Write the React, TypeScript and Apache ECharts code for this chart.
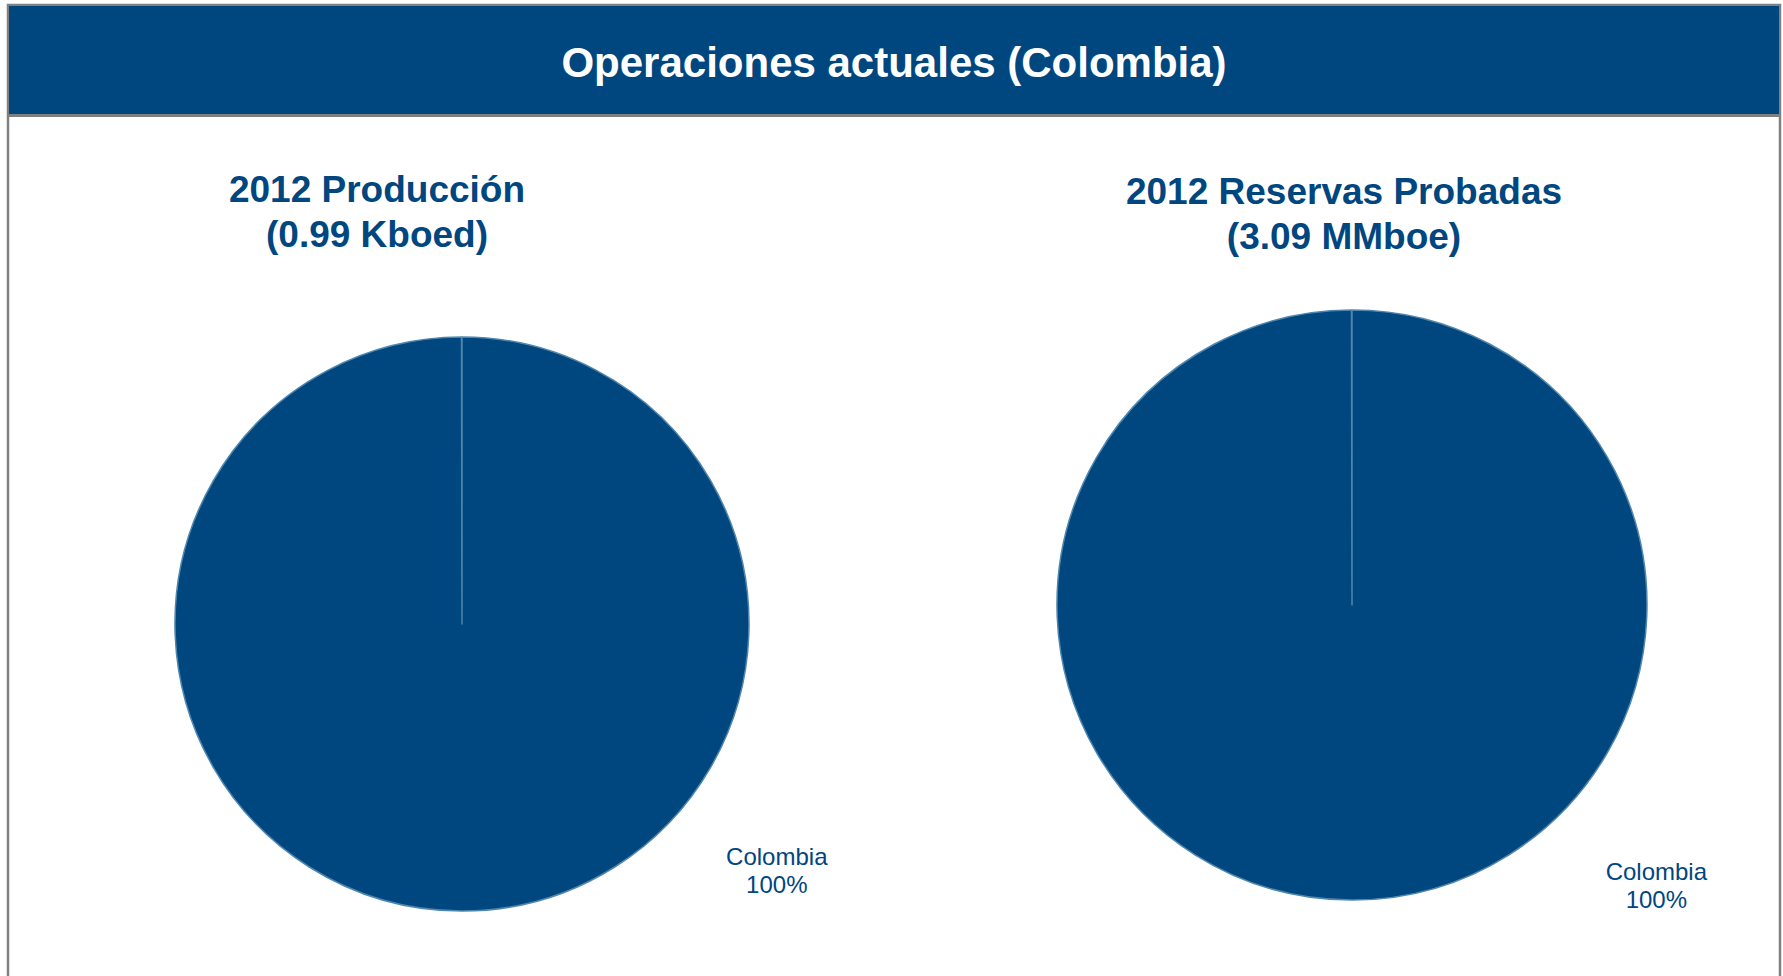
import React, { useEffect, useRef } from "react";
import * as echarts from "echarts";

const mainTitle = "Operaciones actuales (Colombia)";
const pieTitles = ["2012 Producción\n(0.99 Kboed)", "2012 Reservas Probadas\n(3.09 MMboe)"];
const categories = ["Colombia"];
const productionValues = [100];
const reservesValues = [100];

const BLUE = "#00467f";
const FONT = "'Liberation Sans', Arial, sans-serif";

function labelAt(fx: number, fy: number) {
  return (params: any) => {
    const r = params.rect;
    const R = r.width / 2;
    return {
      x: r.x + r.width / 2 + fx * R,
      y: r.y + r.height / 2 + fy * R,
      align: "center",
      verticalAlign: "middle",
    };
  };
}

function pieSeries(values: number[], center: number[], radius: number, lf: number[]) {
  return {
    type: "pie",
    silent: true,
    center,
    radius,
    startAngle: 90,
    endAngle: -269.9,
    clockwise: true,
    data: categories.map((c, i) => ({ name: c, value: values[i] })),
    itemStyle: { color: BLUE, borderColor: "#4f86ad", borderWidth: 1.5 },
    label: {
      show: true,
      position: "outside",
      formatter: "{b}\n{d}%",
      fontSize: 24,
      lineHeight: 28,
      color: BLUE,
      fontFamily: FONT,
    },
    labelLine: { show: false },
    labelLayout: labelAt(lf[0], lf[1]),
  };
}

export default function App() {
  const ref = useRef<HTMLDivElement>(null);
  useEffect(() => {
    if (!ref.current) return;
    const chart = echarts.init(ref.current, undefined, { renderer: "svg" });
    chart.setOption({
      animation: false,
      backgroundColor: "#ffffff",
      graphic: [
        {
          type: "rect",
          shape: { x: 8, y: 5, width: 1772, height: 1000 },
          style: { fill: "#ffffff", stroke: "#808080", lineWidth: 2.5 },
        },
        {
          type: "rect",
          shape: { x: 9, y: 6, width: 1770, height: 108 },
          style: { fill: BLUE },
        },
        {
          type: "line",
          shape: { x1: 8, y1: 115.5, x2: 1780, y2: 115.5 },
          style: { stroke: "#808080", lineWidth: 3 },
        },
      ],
      title: [
        {
          text: mainTitle,
          left: 894,
          top: 37,
          padding: 0,
          textAlign: "center",
          textStyle: { color: "#ffffff", fontSize: 42, fontWeight: "bold", lineHeight: 50, fontFamily: FONT },
        },
        {
          text: pieTitles[0],
          left: 377,
          top: 167,
          padding: 0,
          textAlign: "center",
          textStyle: { color: BLUE, fontSize: 37, fontWeight: "bold", lineHeight: 45, fontFamily: FONT },
        },
        {
          text: pieTitles[1],
          left: 1344,
          top: 169,
          padding: 0,
          textAlign: "center",
          textStyle: { color: BLUE, fontSize: 37, fontWeight: "bold", lineHeight: 45, fontFamily: FONT },
        },
      ],
      series: [
        pieSeries(productionValues, [462, 624], 287, [1.094, 0.856]),
        pieSeries(reservesValues, [1352, 605], 295, [1.029, 0.948]),
      ],
    });
    return () => chart.dispose();
  }, []);
  return (
    <div
      ref={ref}
      style={{ position: "fixed", left: 0, top: 0, width: "1783px", height: "976px", background: "#fff" }}
    />
  );
}
